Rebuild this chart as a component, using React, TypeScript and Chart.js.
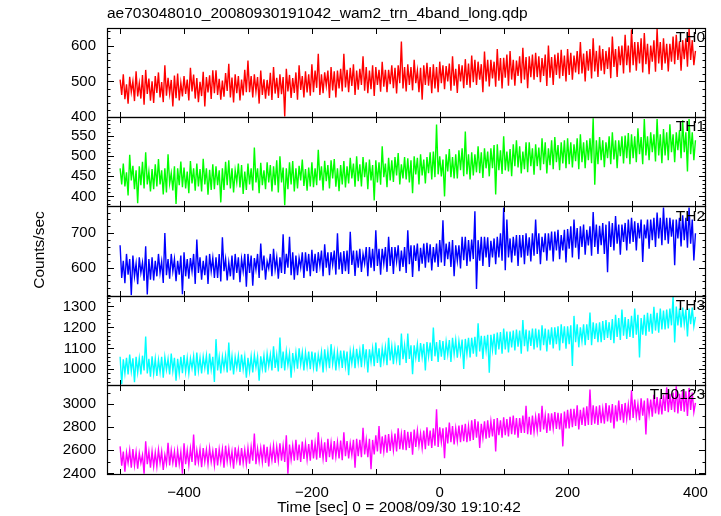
import React, { useEffect, useRef } from "react";
import { Chart, registerables } from "chart.js";
Chart.register(...registerables);

const TITLE = "ae703048010_20080930191042_wam2_trn_4band_long.qdp";
const X_TITLE = "Time [sec] 0 = 2008/09/30 19:10:42";
const Y_TITLE = "Counts/sec";

const TIME_START = -500;
const TIME_STEP = 2.5;
const xTickValues = [-400, -200, 0, 200, 400];
const xMinorTicks = [-500, -400, -300, -200, -100, 0, 100, 200, 300, 400];

const panelNames = ["TH0", "TH1", "TH2", "TH3", "TH0123"];
const panelColors = ["#ff0000", "#00ff00", "#0000ff", "#00ffff", "#ff00ff"];
const panelMin = [400, 375, 519, 926, 2395];
const panelMax = [649, 597.5, 778, 1352, 3167];
const panelMajor = [100, 50, 100, 100, 200];
const panelMinor = [20, 10, 20, 20, 100];

const th0 = [
  505, 462, 520, 450, 492, 438, 513, 470, 500, 445, 528, 458, 495, 452, 518, 435, 532, 465, 508, 446,
  500, 440, 515, 468, 525, 455, 498, 442, 545, 460, 510, 465, 504, 430, 516, 453, 522, 447, 496, 458,
  515, 465, 505, 447, 538, 472, 519, 452, 509, 442, 499, 459, 527, 430, 512, 469, 517, 451, 531, 467,
  531, 462, 507, 449, 502, 457, 523, 473, 549, 455, 511, 441, 520, 467, 515, 447, 505, 461, 532, 470,
  558, 470, 515, 455, 520, 472, 512, 438, 530, 462, 506, 452, 504, 460, 524, 448, 540, 466, 510, 454,
  520, 464, 512, 402, 535, 472, 518, 454, 509, 468, 525, 449, 545, 476, 515, 455, 528, 469, 520, 460,
  548, 470, 530, 482, 577, 462, 520, 467, 525, 488, 530, 454, 540, 475, 528, 455, 530, 480, 535, 472,
  577, 483, 532, 470, 538, 487, 548, 462, 530, 477, 535, 490, 570, 474, 540, 467, 530, 478, 545, 459,
  540, 490, 532, 471, 555, 485, 532, 470, 532, 492, 545, 481, 538, 466, 545, 495, 611, 480, 540, 472,
  548, 490, 540, 475, 560, 495, 530, 470, 538, 449, 545, 490, 552, 488, 540, 467, 548, 480, 540, 470,
  555, 495, 545, 478, 543, 500, 550, 474, 570, 488, 535, 468, 548, 500, 545, 481, 562, 490, 550, 482,
  572, 498, 560, 490, 555, 505, 548, 470, 583, 500, 560, 486, 560, 508, 555, 485, 590, 502, 565, 480,
  566, 510, 575, 488, 585, 505, 560, 488, 558, 515, 570, 495, 594, 505, 568, 481, 570, 512, 575, 505,
  580, 512, 570, 498, 565, 515, 575, 487, 600, 510, 568, 490, 575, 518, 580, 508, 588, 515, 572, 500,
  590, 518, 580, 505, 572, 525, 585, 520, 610, 522, 578, 500, 585, 530, 590, 508, 620, 528, 585, 512,
  600, 530, 590, 520, 585, 535, 595, 509, 625, 540, 590, 512, 598, 545, 600, 522, 630, 545, 600, 525,
  645, 545, 610, 530, 610, 550, 620, 525, 635, 548, 605, 520, 600, 555, 615, 527, 646, 550, 610, 532,
  620, 550, 605, 528, 605, 555, 625, 548, 630, 560, 612, 530, 615, 562, 620, 541, 646, 560, 615, 545,
  585,
];

const th1 = [
  470, 430, 482, 425, 460, 402, 504, 440, 476, 418, 465, 383, 475, 428, 486, 420, 510, 430, 462, 412,
  468, 418, 480, 425, 493, 430, 465, 405, 470, 410, 505, 432, 458, 415, 475, 381, 470, 428, 487, 423,
  472, 420, 462, 408, 488, 432, 470, 414, 482, 425, 468, 412, 494, 430, 470, 404, 466, 416, 480, 418,
  475, 428, 465, 385, 470, 416, 486, 428, 490, 420, 470, 410, 465, 435, 482, 422, 478, 406, 462, 416,
  482, 430, 470, 415, 522, 435, 470, 408, 484, 428, 465, 418, 485, 435, 478, 412, 475, 428, 490, 410,
  500, 435, 472, 378, 470, 418, 485, 430, 488, 412, 470, 420, 476, 440, 492, 426, 468, 414, 472, 425,
  485, 423, 470, 428, 516, 440, 475, 415, 489, 438, 478, 420, 490, 445, 493, 424, 470, 413, 478, 430,
  488, 422, 475, 432, 496, 445, 482, 424, 500, 438, 480, 425, 498, 448, 485, 418, 492, 440, 478, 390,
  490, 435, 485, 429, 525, 448, 482, 423, 496, 440, 490, 436, 498, 452, 508, 430, 480, 445, 498, 442,
  495, 435, 490, 408, 500, 455, 496, 430, 505, 452, 492, 432, 498, 458, 510, 442, 512, 448, 579, 455,
  500, 450, 492, 400, 505, 462, 518, 448, 498, 445, 505, 445, 515, 465, 520, 450, 562, 455, 505, 442,
  510, 452, 505, 460, 525, 458, 510, 446, 520, 470, 512, 450, 520, 470, 528, 405, 530, 465, 515, 456,
  550, 465, 512, 462, 518, 450, 530, 475, 540, 472, 525, 457, 512, 468, 535, 460, 535, 475, 520, 454,
  530, 475, 522, 465, 545, 480, 535, 457, 520, 478, 540, 468, 548, 485, 528, 465, 535, 482, 540, 470,
  545, 480, 535, 472, 530, 488, 545, 468, 555, 485, 535, 470, 540, 490, 545, 483, 595, 429, 540, 480,
  548, 490, 540, 473, 535, 495, 550, 480, 560, 492, 540, 470, 540, 500, 550, 482, 552, 495, 558, 480,
  555, 495, 550, 485, 570, 505, 548, 480, 593, 502, 550, 490, 560, 510, 555, 487, 593, 502, 555, 483,
  568, 502, 560, 490, 580, 510, 555, 485, 560, 515, 565, 495, 590, 510, 560, 462, 593, 505, 560, 490,
  540,
];

const th2 = [
  665, 570, 620, 555, 640, 580, 625, 520, 635, 575, 612, 552, 630, 585, 615, 562, 662, 522, 625, 565,
  630, 563, 620, 575, 640, 585, 618, 556, 701, 578, 625, 568, 640, 590, 625, 561, 620, 580, 635, 523,
  645, 575, 625, 568, 628, 590, 640, 553, 682, 585, 630, 565, 620, 578, 635, 553, 640, 590, 628, 570,
  630, 570, 640, 560, 688, 590, 625, 563, 615, 575, 635, 565, 640, 585, 630, 558, 625, 590, 640, 545,
  640, 585, 635, 548, 628, 595, 640, 570, 670, 592, 635, 565, 618, 598, 640, 575, 655, 595, 630, 568,
  630, 585, 697, 582, 640, 600, 690, 578, 645, 565, 635, 578, 628, 600, 645, 570, 645, 590, 640, 575,
  652, 590, 640, 585, 645, 605, 650, 575, 668, 600, 645, 578, 645, 608, 650, 580, 700, 595, 645, 582,
  648, 590, 650, 582, 704, 608, 650, 576, 650, 600, 655, 588, 640, 612, 660, 575, 660, 600, 655, 590,
  709, 605, 655, 580, 655, 612, 660, 588, 690, 605, 660, 582, 660, 618, 665, 590, 650, 602, 660, 585,
  709, 610, 665, 573, 665, 620, 670, 590, 658, 612, 670, 600, 672, 615, 668, 592, 660, 615, 670, 602,
  680, 615, 738, 605, 670, 625, 675, 602, 680, 575, 665, 620, 665, 598, 690, 622, 690, 605, 680, 618,
  682, 625, 764, 538, 680, 620, 690, 605, 690, 630, 688, 602, 678, 630, 685, 610, 690, 630, 700, 620,
  775, 593, 740, 630, 685, 615, 690, 635, 695, 605, 695, 630, 695, 610, 700, 635, 688, 618, 700, 635,
  740, 640, 700, 610, 690, 645, 700, 620, 700, 650, 705, 618, 705, 650, 710, 625, 695, 650, 710, 615,
  712, 655, 720, 630, 740, 658, 715, 625, 720, 660, 725, 638, 710, 665, 720, 635, 762, 660, 725, 640,
  722, 665, 730, 640, 725, 587, 735, 660, 730, 650, 750, 670, 725, 638, 725, 675, 730, 650, 740, 670,
  745, 675, 735, 650, 730, 685, 740, 617, 725, 685, 740, 655, 740, 680, 745, 660, 760, 685, 745, 665,
  775, 680, 745, 670, 745, 690, 740, 607, 740, 685, 745, 662, 752, 680, 745, 658, 775, 670, 740, 621,
  700,
];

const th3 = [
  1060, 929, 1048, 980, 1055, 975, 1070, 990, 1052, 938, 1060, 985, 1052, 975, 1065, 995, 1156, 980, 1050, 965,
  1062, 980, 1050, 968, 1045, 985, 1060, 960, 1058, 998, 1050, 975, 1075, 992, 1055, 945, 1050, 980, 1060, 982,
  1068, 988, 1055, 980, 1052, 1005, 1062, 970, 1080, 993, 1055, 980, 1060, 1005, 1065, 975, 1075, 1000, 1060, 940,
  1144, 995, 1060, 980, 1060, 1005, 1065, 985, 1128, 995, 1062, 975, 1058, 1007, 1065, 987, 1070, 1000, 1060, 960,
  1055, 990, 1062, 985, 1068, 1010, 1060, 945, 1062, 1003, 1065, 985, 1075, 1015, 1070, 995, 1110, 1007, 1070, 990,
  1152, 1005, 1085, 995, 1085, 1020, 1075, 960, 1078, 1010, 1080, 1003, 1100, 1023, 1082, 995, 1080, 1015, 1085, 1000,
  1085, 1010, 1080, 990, 1070, 1023, 1082, 985, 1095, 1015, 1085, 1005, 1120, 1025, 1085, 995, 1082, 1017, 1090, 1007,
  1090, 1015, 1085, 972, 1085, 1028, 1092, 1005, 1098, 1030, 1090, 1010, 1120, 1032, 1095, 985, 1095, 1035, 1100, 1015,
  1128, 1030, 1100, 1010, 1100, 1040, 1105, 1020, 1150, 1042, 1110, 1025, 1108, 1045, 1115, 1020, 1171, 1048, 1115, 1030,
  1171, 1050, 1115, 977, 1115, 1055, 1120, 1035, 1125, 1058, 1122, 995, 1130, 1060, 1128, 1040, 1200, 1062, 1130, 1035,
  1140, 1060, 1135, 1045, 1132, 1070, 1140, 1035, 1150, 1072, 1140, 1055, 1135, 1075, 1142, 1002, 1145, 1073, 1150, 1057,
  1150, 1075, 1155, 1060, 1220, 1085, 1160, 1050, 1160, 1090, 1165, 984, 1165, 1092, 1170, 1070, 1175, 1095, 1178, 1075,
  1195, 1095, 1180, 1080, 1180, 1105, 1185, 1090, 1190, 1108, 1185, 1075, 1235, 1110, 1190, 1085, 1185, 1112, 1195, 1095,
  1195, 1105, 1190, 1090, 1210, 1115, 1195, 1085, 1190, 1118, 1200, 1100, 1200, 1120, 1205, 1090, 1215, 1125, 1205, 1098,
  1205, 1120, 1210, 1016, 1255, 1130, 1215, 1105, 1200, 1135, 1215, 1115, 1215, 1140, 1271, 1115, 1225, 1145, 1220, 1130,
  1225, 1130, 1230, 1140, 1235, 1150, 1225, 1140, 1240, 1125, 1260, 1155, 1245, 1140, 1285, 1160, 1250, 1145, 1240, 1155,
  1255, 1150, 1290, 1165, 1260, 1056, 1245, 1165, 1260, 1160, 1270, 1180, 1265, 1170, 1299, 1185, 1270, 1175, 1290, 1190,
  1280, 1190, 1285, 1195, 1290, 1210, 1348, 1128, 1300, 1210, 1290, 1200, 1295, 1215, 1285, 1157, 1290, 1215, 1295, 1205,
  1250,
];

const th0123 = [
  2634, 2466, 2590, 2415, 2580, 2490, 2600, 2450, 2610, 2470, 2585, 2440, 2575, 2490, 2560, 2398, 2678, 2480, 2590, 2450,
  2590, 2460, 2580, 2460, 2605, 2490, 2590, 2430, 2560, 2485, 2665, 2470, 2600, 2490, 2590, 2455, 2600, 2480, 2585, 2398,
  2660, 2480, 2600, 2470, 2615, 2500, 2737, 2470, 2600, 2495, 2610, 2455, 2620, 2500, 2605, 2480, 2620, 2500, 2595, 2470,
  2620, 2470, 2610, 2500, 2610, 2450, 2640, 2505, 2615, 2490, 2590, 2440, 2625, 2510, 2605, 2470, 2620, 2490, 2605, 2480,
  2620, 2485, 2630, 2510, 2746, 2480, 2615, 2505, 2620, 2500, 2650, 2490, 2630, 2460, 2620, 2515, 2640, 2490, 2630, 2510,
  2660, 2510, 2640, 2500, 2730, 2398, 2650, 2520, 2640, 2510, 2690, 2515, 2650, 2500, 2675, 2525, 2660, 2520, 2655, 2510,
  2690, 2530, 2660, 2520, 2757, 2535, 2665, 2530, 2670, 2500, 2700, 2540, 2665, 2520, 2680, 2545, 2670, 2530, 2685, 2515,
  2757, 2550, 2680, 2530, 2660, 2560, 2690, 2450, 2700, 2550, 2690, 2540, 2796, 2565, 2690, 2540, 2700, 2436, 2690, 2565,
  2730, 2590, 2810, 2570, 2720, 2590, 2735, 2580, 2740, 2595, 2730, 2600, 2745, 2590, 2790, 2610, 2740, 2605, 2775, 2600,
  2760, 2620, 2760, 2561, 2780, 2630, 2770, 2640, 2745, 2620, 2770, 2610, 2800, 2640, 2770, 2620, 2790, 2640, 2956, 2630,
  2800, 2670, 2790, 2532, 2800, 2660, 2840, 2670, 2810, 2650, 2790, 2680, 2815, 2670, 2820, 2680, 2830, 2670, 2810, 2680,
  2860, 2690, 2870, 2710, 2850, 2620, 2830, 2710, 2850, 2700, 2860, 2710, 2850, 2720, 2870, 2591, 2880, 2730, 2860, 2710,
  2885, 2730, 2870, 2720, 2890, 2740, 2900, 2735, 2880, 2710, 2880, 2750, 2900, 2750, 2985, 2740, 2890, 2735, 2900, 2760,
  2890, 2770, 2920, 2760, 2985, 2780, 2900, 2750, 2920, 2770, 2920, 2790, 2930, 2785, 2925, 2780, 2920, 2634, 2935, 2790,
  2950, 2790, 2960, 2800, 2960, 2810, 2990, 2780, 2950, 2820, 2970, 2810, 2980, 2820, 3125, 2820, 2990, 2830, 2980, 2820,
  2990, 2835, 2960, 2830, 3010, 2850, 2990, 2840, 3000, 2790, 2990, 2850, 3030, 2860, 3000, 2840, 3010, 2870, 2995, 2860,
  3120, 2880, 3040, 2890, 3000, 2860, 3050, 2900, 3030, 2737, 3050, 2910, 3040, 2890, 3080, 2920, 3060, 2910, 3050, 2910,
  3080, 2940, 3146, 2930, 3090, 2950, 3100, 2930, 3155, 2920, 3090, 2940, 3120, 2935, 3110, 2898, 3140, 2950, 3100, 2930,
  3010,
];

const panelData = [th0, th1, th2, th3, th0123];

const FONT_FAMILY = '"Liberation Sans", Arial, Helvetica, sans-serif';

const fmtX = (v: number) => (v < 0 ? "\u2212" + Math.abs(v) : String(v));

const framePlugin = {
  id: "qdpFrame",
  afterDatasetsDraw(chart: any) {
    const ctx = chart.ctx;
    const xs = chart.scales.x;
    ctx.save();
    ctx.strokeStyle = "#000";
    ctx.lineWidth = 1;
    const line = (x1: number, y1: number, x2: number, y2: number) => {
      ctx.beginPath();
      ctx.moveTo(x1, y1);
      ctx.lineTo(x2, y2);
      ctx.stroke();
    };
    const left = Math.round(xs.left) + 0.5;
    const right = Math.round(xs.right) - 0.5;
    panelNames.forEach((name, i) => {
      const ys = chart.scales["y" + i];
      const top = Math.round(ys.top) + 0.5;
      const bottom = Math.round(ys.bottom) + 0.5;
      ctx.lineWidth = 1.2;
      ctx.strokeRect(left, top, right - left, bottom - top);
      ctx.lineWidth = 1;
      xMinorTicks.forEach((t) => {
        const px = Math.round(xs.getPixelForValue(t)) + 0.5;
        line(px, top, px, top + 5.5);
        line(px, bottom, px, bottom - 5.5);
      });
      const mn = panelMin[i];
      const mx = panelMax[i];
      const minor = panelMinor[i];
      const major = panelMajor[i];
      for (let v = Math.ceil(mn / minor) * minor; v <= mx; v += minor) {
        const py = Math.round(ys.getPixelForValue(v)) + 0.5;
        const len = v % major === 0 ? 6.5 : 3;
        line(left, py, left + len, py);
        line(right, py, right - len, py);
      }
      ctx.fillStyle = "#000";
      ctx.font = "15.5px " + FONT_FAMILY;
      ctx.textAlign = "right";
      ctx.textBaseline = "middle";
      ctx.fillText(name, 705, ys.top + 10);
    });
    ctx.fillStyle = "#000";
    ctx.font = "15.5px " + FONT_FAMILY;
    ctx.textAlign = "left";
    ctx.textBaseline = "middle";
    ctx.fillText(TITLE, 107, 14);
    ctx.textAlign = "center";
    ctx.fillText(X_TITLE, 399, 508);
    ctx.translate(40, 250);
    ctx.rotate(-Math.PI / 2);
    ctx.fillText(Y_TITLE, 0, 0);
    ctx.restore();
  },
};

export default function App() {
  const ref = useRef<HTMLCanvasElement | null>(null);
  useEffect(() => {
    if (!ref.current) return;
    const scales: any = {
      x: {
        type: "linear",
        position: "bottom",
        min: -520.5,
        max: 416.5,
        grid: { display: false, drawTicks: false },
        border: { display: false },
        ticks: {
          padding: 10,
          color: "#000",
          font: { size: 15, family: FONT_FAMILY },
          autoSkip: false,
          maxRotation: 0,
          callback: (v: any) => fmtX(Number(v)),
        },
        afterBuildTicks: (s: any) => {
          s.ticks = xTickValues.map((v) => ({ value: v }));
        },
        afterFit: (s: any) => {
          s.height = 42;
        },
      },
    };
    panelNames.forEach((_, i) => {
      const major = panelMajor[i];
      scales["y" + i] = {
        type: "linear",
        position: "left",
        stack: "panels",
        stackWeight: 1,
        weight: 10 - i,
        min: panelMin[i],
        max: panelMax[i],
        grid: { display: false, drawTicks: false },
        border: { display: false },
        ticks: {
          padding: 11,
          color: "#000",
          autoSkip: false,
          font: { size: 15, family: FONT_FAMILY },
          callback: (v: any) => String(v),
        },
        afterBuildTicks: (s: any) => {
          const arr: any[] = [];
          for (let v = Math.ceil(panelMin[i] / major) * major; v <= panelMax[i]; v += major) {
            arr.push({ value: v });
          }
          s.ticks = arr;
        },
        afterFit: (s: any) => {
          s.width = 107;
        },
      };
    });
    const datasets = panelData.map((arr, i) => ({
      label: panelNames[i],
      data: arr.map((y, k) => ({ x: TIME_START + k * TIME_STEP, y })),
      yAxisID: "y" + i,
      xAxisID: "x",
      borderColor: panelColors[i],
      backgroundColor: panelColors[i],
      borderWidth: 1.4,
      pointRadius: 0,
      fill: false,
      tension: 0,
    }));
    const chart = new Chart(ref.current, {
      type: "line",
      data: { datasets },
      options: {
        animation: false,
        responsive: false,
        devicePixelRatio: 1,
        layout: { padding: { top: 28, left: 0, right: 15, bottom: 0 } },
        scales,
        plugins: {
          legend: { display: false },
          tooltip: { enabled: false },
          title: { display: false },
        },
        events: [],
      } as any,
      plugins: [framePlugin],
    });
    return () => chart.destroy();
  }, []);
  return (
    <div style={{ position: "absolute", left: 0, top: 0, width: 721, height: 516, background: "#fff" }}>
      <canvas ref={ref} width={721} height={516} style={{ display: "block" }} />
    </div>
  );
}
